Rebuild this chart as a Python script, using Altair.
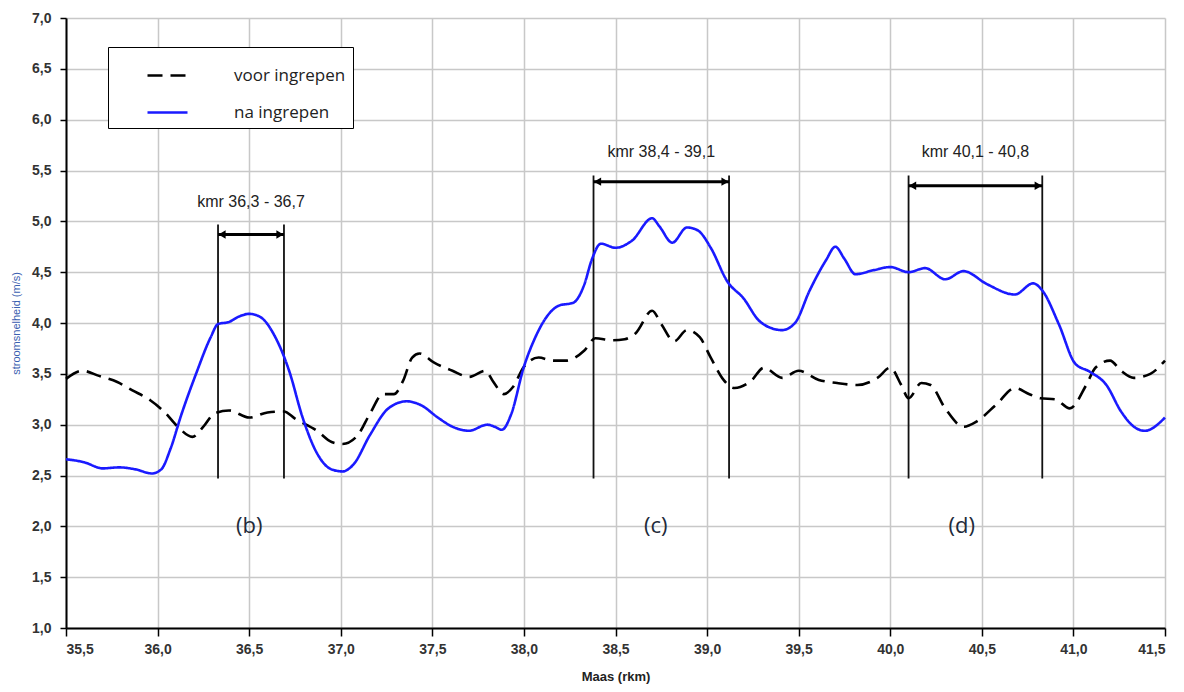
import altair as alt
import pandas as pd

# ---- data ----
na_x = [35.50, 35.60, 35.70, 35.79, 35.88, 35.97, 36.02, 36.07, 36.13, 36.21, 36.29, 36.33, 36.39, 36.44,
        36.50, 36.56, 36.64, 36.72, 36.79, 36.87, 36.95, 37.01, 37.07, 37.16, 37.26, 37.36, 37.44, 37.53,
        37.61, 37.70, 37.80, 37.84, 37.88, 37.93, 38.00, 38.06, 38.12, 38.19, 38.27, 38.33, 38.37, 38.42,
        38.50, 38.59, 38.70, 38.74, 38.81, 38.89, 38.95, 39.02, 39.11, 39.20, 39.28, 39.35, 39.41, 39.48,
        39.56, 39.65, 39.70, 39.75, 39.81, 39.91, 40.00, 40.10, 40.19, 40.30, 40.40, 40.53, 40.68, 40.78,
        40.83, 40.92, 41.01, 41.09, 41.18, 41.26, 41.33, 41.39, 41.50]
na_y = [2.66, 2.63, 2.57, 2.58, 2.56, 2.52, 2.56, 2.76, 3.10, 3.50, 3.86, 3.99, 4.01, 4.06,
        4.09, 4.06, 3.87, 3.52, 3.08, 2.72, 2.56, 2.54, 2.61, 2.90, 3.16, 3.23, 3.19, 3.07,
        2.98, 2.94, 3.00, 2.98, 2.95, 3.10, 3.57, 3.85, 4.05, 4.17, 4.20, 4.38, 4.62, 4.78,
        4.74, 4.81, 5.03, 4.95, 4.79, 4.94, 4.91, 4.74, 4.41, 4.24, 4.03, 3.95, 3.93, 4.00,
        4.32, 4.62, 4.75, 4.63, 4.48, 4.52, 4.55, 4.50, 4.54, 4.43, 4.51, 4.38, 4.28, 4.39,
        4.32, 3.99, 3.60, 3.52, 3.39, 3.13, 2.98, 2.94, 3.07]

voor_x = [35.50, 35.59, 35.68, 35.78, 35.86, 35.96, 36.04, 36.11, 36.19, 36.25, 36.31, 36.39, 36.50, 36.60,
          36.69, 36.75, 36.87, 36.95, 37.01, 37.09, 37.16, 37.23, 37.29, 37.34, 37.39, 37.43, 37.51, 37.61,
          37.70, 37.79, 37.83, 37.89, 37.94, 38.00, 38.08, 38.16, 38.23, 38.33, 38.39, 38.48, 38.55, 38.61,
          38.70, 38.75, 38.82, 38.89, 38.96, 39.02, 39.09, 39.15, 39.24, 39.31, 39.41, 39.50, 39.61, 39.71,
          39.82, 39.93, 40.00, 40.06, 40.10, 40.17, 40.22, 40.30, 40.40, 40.47, 40.58, 40.68, 40.76, 40.82,
          40.90, 40.98, 41.07, 41.12, 41.20, 41.26, 41.33, 41.42, 41.50]
voor_y = [3.45, 3.53, 3.48, 3.42, 3.34, 3.24, 3.12, 2.98, 2.88, 2.98, 3.11, 3.14, 3.07, 3.12,
          3.13, 3.06, 2.94, 2.83, 2.81, 2.89, 3.11, 3.30, 3.30, 3.43, 3.66, 3.70, 3.61, 3.53,
          3.47, 3.53, 3.43, 3.30, 3.37, 3.57, 3.66, 3.63, 3.63, 3.73, 3.85, 3.83, 3.84, 3.90,
          4.12, 3.99, 3.82, 3.93, 3.86, 3.66, 3.44, 3.36, 3.43, 3.56, 3.46, 3.53, 3.44, 3.41,
          3.39, 3.46, 3.56, 3.39, 3.26, 3.41, 3.39, 3.16, 2.98, 3.03, 3.20, 3.36, 3.30, 3.26,
          3.25, 3.16, 3.39, 3.56, 3.63, 3.53, 3.46, 3.50, 3.63]

series_names = ["voor ingrepen", "na ingrepen"]
series_colors = ["#000000", "#1a1aff"]

range_start = [36.33, 38.38, 40.10]
range_end = [36.69, 39.12, 40.83]
range_top = [4.97, 5.45, 5.45]
range_bottom = [2.47, 2.47, 2.47]
range_arrow_y = [4.87, 5.39, 5.35]
range_label = ["kmr 36,3 - 36,7", "kmr 38,4 - 39,1", "kmr 40,1 - 40,8"]
range_label_y = [5.19, 5.68, 5.68]
range_tag = ["(b)", "(c)", "(d)"]
range_tag_x = [36.5, 38.72, 40.39]
range_tag_y = [2.0, 2.0, 2.0]

x_ticks = [35.5, 36.0, 36.5, 37.0, 37.5, 38.0, 38.5, 39.0, 39.5, 40.0, 40.5, 41.0, 41.5]
y_ticks = [1.0, 1.5, 2.0, 2.5, 3.0, 3.5, 4.0, 4.5, 5.0, 5.5, 6.0, 6.5, 7.0]

# ---- tables ----
lines = pd.concat([
    pd.DataFrame({"km": voor_x, "v": voor_y, "serie": series_names[0]}),
    pd.DataFrame({"km": na_x, "v": na_y, "serie": series_names[1]}),
])
ranges = pd.DataFrame({
    "start": range_start, "end": range_end, "top": range_top, "bottom": range_bottom,
    "ay": range_arrow_y, "label": range_label, "ly": range_label_y,
    "mid": [(a + b) / 2 for a, b in zip(range_start, range_end)],
})
tags = pd.DataFrame({"x": range_tag_x, "y": range_tag_y, "t": range_tag})
edges = pd.DataFrame({
    "x": range_start + range_end, "top": range_top * 2, "bottom": range_bottom * 2,
})
heads_l = pd.DataFrame({"x": range_start, "y": range_arrow_y})
heads_r = pd.DataFrame({"x": range_end, "y": range_arrow_y})

label_expr = "replace(format(datum.value, '.1f'), '.', ',')"
xscale = alt.Scale(domain=[35.5, 41.5], nice=False, zero=False)
yscale = alt.Scale(domain=[1.0, 7.0], nice=False, zero=False)

x_enc = alt.X("km:Q", scale=xscale, title="Maas (rkm)",
              axis=alt.Axis(values=x_ticks, labelExpr=label_expr, tickSize=8, labelPadding=6,
                            titlePadding=14))
y_enc = alt.Y("v:Q", scale=yscale, title="stroomsnelheid (m/s)",
              axis=alt.Axis(values=y_ticks, labelExpr=label_expr, tickSize=6, labelPadding=9,
                            titlePadding=10, titleColor="#3a60b0", titleFontSize=11,
                            titleFontWeight="normal"))

line_chart = alt.Chart(lines).mark_line(strokeWidth=2.6, interpolate="monotone").encode(
    x=x_enc, y=y_enc,
    color=alt.Color("serie:N", scale=alt.Scale(domain=series_names, range=series_colors),
                    sort=series_names,
                    legend=alt.Legend(title=None, orient="none", legendX=42, legendY=29,
                                      symbolType="stroke", symbolSize=1600, symbolStrokeWidth=2.6,
                                      symbolOffset=31, labelOffset=45, labelFontSize=17,
                                      labelFont="Open Sans", labelColor="#222",
                                      rowPadding=7, padding=7, strokeColor="#000",
                                      fillColor="white", labelLimit=400)),
    strokeDash=alt.StrokeDash("serie:N", sort=series_names,
                              scale=alt.Scale(domain=series_names, range=[[15, 8], [1, 0]]),
                              legend=None),
)

edge_rules = alt.Chart(edges).mark_rule(color="#111", strokeWidth=1.8).encode(
    x=alt.X("x:Q", scale=xscale), y=alt.Y("bottom:Q", scale=yscale), y2="top:Q")

arrow_rules = alt.Chart(ranges).mark_rule(color="#000", strokeWidth=3).encode(
    x=alt.X("start:Q", scale=xscale), x2="end:Q", y=alt.Y("ay:Q", scale=yscale))

left_heads = alt.Chart(heads_l).mark_point(shape="triangle-left", filled=True, color="#000",
                                           size=70, opacity=1, xOffset=4).encode(
    x=alt.X("x:Q", scale=xscale), y=alt.Y("y:Q", scale=yscale))
right_heads = alt.Chart(heads_r).mark_point(shape="triangle-right", filled=True, color="#000",
                                            size=70, opacity=1, xOffset=-4).encode(
    x=alt.X("x:Q", scale=xscale), y=alt.Y("y:Q", scale=yscale))

range_text = alt.Chart(ranges).mark_text(fontSize=16, font="Liberation Sans", color="#222").encode(
    x=alt.X("mid:Q", scale=xscale), y=alt.Y("ly:Q", scale=yscale), text="label:N")

tag_text = alt.Chart(tags).mark_text(fontSize=22, font="Open Sans", color="#1e2a3a").encode(
    x=alt.X("x:Q", scale=xscale), y=alt.Y("y:Q", scale=yscale), text="t:N")

chart = alt.layer(
    edge_rules, line_chart, arrow_rules, left_heads, right_heads, range_text, tag_text
).properties(
    width=1099, height=610,
    padding={"left": 58, "top": 10, "right": 11, "bottom": 56},
    autosize=alt.AutoSizeParams(type="none"),
).configure_view(strokeWidth=0).configure_axis(
    gridColor="#c8c8c8", gridWidth=1.5, domainColor="#000", domainWidth=2,
    tickColor="#000", tickWidth=1.5,
    labelFont="Liberation Sans", labelFontSize=14, labelFontWeight="bold", labelColor="#333",
    titleFont="Liberation Sans", titleFontSize=13, titleFontWeight="bold", titleColor="#222",
)

chart.save("out.html", embed_options={"renderer": "svg", "actions": False})
